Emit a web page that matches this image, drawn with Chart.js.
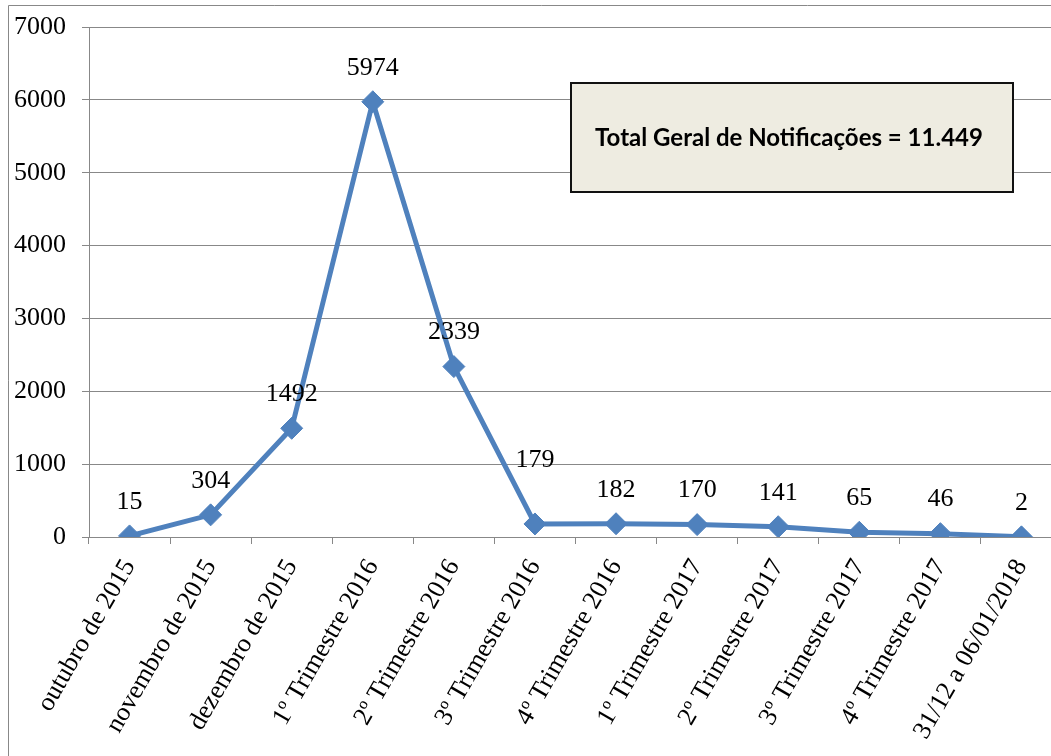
<!DOCTYPE html>
<html>
<head>
<meta charset="utf-8">
<script src="https://cdn.jsdelivr.net/npm/chart.js@4/dist/chart.umd.min.js"></script>
<style>
html, body { margin: 0; padding: 0; overflow: hidden; background: #fff; }
#wrap { position: absolute; left: 0; top: 0; width: 1074px; height: 756px; }
</style>
</head>
<body>
<div id="wrap"><canvas id="linechart" width="1074" height="756"></canvas></div>
<script>
// categorias e valores
var categorias = ['outubro de 2015', 'novembro de 2015', 'dezembro de 2015', '1º Trimestre 2016', '2º Trimestre 2016', '3º Trimestre 2016', '4º Trimestre 2016', '1º Trimestre 2017', '2º Trimestre 2017', '3º Trimestre 2017', '4º Trimestre 2017', '31/12 a 06/01/2018'];
var notificacoes = [15, 304, 1492, 5974, 2339, 179, 182, 170, 141, 65, 46, 2];
var yTicks = [0, 1000, 2000, 3000, 4000, 5000, 6000, 7000];
var totalTexto = 'Total Geral de Notificações = 11.449';

var serif = "'Liberation Serif', 'Times New Roman', serif";
var azul = '#4f81bd';
var cinza = '#888888';

// moldura externa (so topo e esquerda aparecem no recorte)
var moldura = {
    id: 'moldura',
    beforeDraw: function(chart) {
        var ctx = chart.ctx;
        ctx.save();
        ctx.strokeStyle = cinza;
        ctx.lineWidth = 1;
        ctx.beginPath();
        ctx.moveTo(8.5, chart.height);
        ctx.lineTo(8.5, 5.5);
        ctx.lineTo(chart.width, 5.5);
        ctx.stroke();
        ctx.restore();
    }
};

// rotulos de valor acima de cada ponto
var rotulos = {
    id: 'rotulos',
    afterDatasetsDraw: function(chart) {
        var ctx = chart.ctx;
        var meta = chart.getDatasetMeta(0);
        ctx.save();
        ctx.font = '26px ' + serif;
        ctx.fillStyle = '#000';
        ctx.textAlign = 'center';
        ctx.textBaseline = 'middle';
        meta.data.forEach(function(pt, i) {
            var extra = (i === 5) ? 30 : 0;
            ctx.fillText(String(chart.data.datasets[0].data[i]), pt.x, pt.y - 34 - extra);
        });
        ctx.restore();
    }
};

// caixa com o total
var caixaTotal = {
    id: 'caixaTotal',
    afterDraw: function(chart) {
        var ctx = chart.ctx;
        var x = 571, y = 83, w = 442, h = 109;
        ctx.save();
        ctx.fillStyle = '#eeece1';
        ctx.fillRect(x, y, w, h);
        ctx.strokeStyle = '#111';
        ctx.lineWidth = 2;
        ctx.strokeRect(x, y, w, h);
        ctx.fillStyle = '#000';
        ctx.font = "bold 24px Lato, 'Liberation Sans', sans-serif";
        ctx.textAlign = 'center';
        ctx.textBaseline = 'middle';
        ctx.fillText(totalTexto, x + w / 2 - 3, y + h / 2 + 1);
        ctx.restore();
    }
};

var ctx = document.getElementById('linechart').getContext('2d');
var lineChart = new Chart(ctx, {
    type: 'line',
    data: {
        labels: categorias,
        datasets: [{
            label: 'Notificações',
            data: notificacoes,
            borderColor: azul,
            backgroundColor: azul,
            borderWidth: 5,
            fill: false,
            tension: 0,
            pointStyle: 'rectRot',
            pointRadius: 11,
            pointHoverRadius: 11,
            pointBackgroundColor: azul,
            pointBorderColor: azul,
            pointBorderWidth: 1
        }]
    },
    options: {
        responsive: false,
        animation: false,
        devicePixelRatio: 1,
        layout: { padding: { left: 0, top: 27, right: 0, bottom: 0 } },
        plugins: {
            legend: { display: false },
            tooltip: { enabled: false }
        },
        scales: {
            x: {
                offset: true,
                grid: { offset: true, drawOnChartArea: false, color: cinza, tickLength: 7 },
                border: { color: cinza },
                ticks: {
                    autoSkip: false,
                    minRotation: 60,
                    maxRotation: 60,
                    padding: 10,
                    color: '#000',
                    font: { family: serif, size: 26 }
                },
                afterFit: function(scale) {
                    scale.height = 219;
                    scale.paddingLeft = 0;
                    scale.paddingRight = 0;
                }
            },
            y: {
                min: 0,
                max: 7000,
                afterBuildTicks: function(scale) {
                    scale.ticks = yTicks.map(function(v) { return { value: v }; });
                },
                grid: { color: cinza, tickLength: 7 },
                border: { color: cinza },
                ticks: {
                    padding: 16,
                    color: '#000',
                    font: { family: serif, size: 26 },
                    callback: function(v) { return String(v); }
                },
                afterFit: function(scale) {
                    scale.width = 89;
                    scale.paddingTop = 0;
                    scale.paddingBottom = 0;
                }
            }
        }
    },
    plugins: [moldura, rotulos, caixaTotal]
});
</script>
</body>
</html>
